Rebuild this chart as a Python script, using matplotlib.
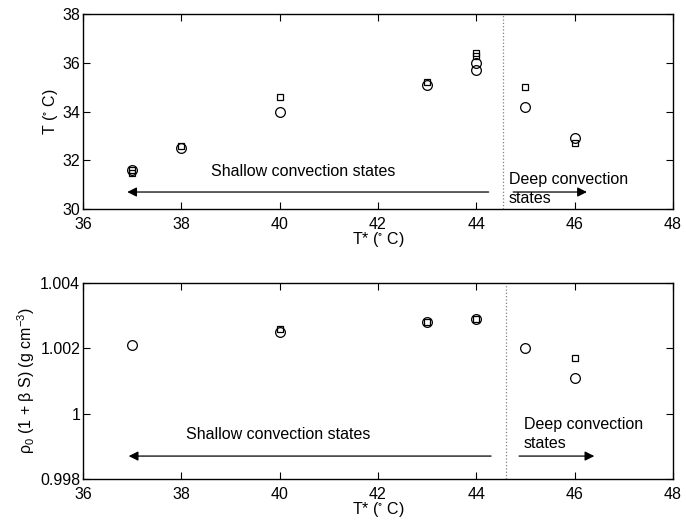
import matplotlib
matplotlib.use("Agg")
import matplotlib.pyplot as plt

plt.rcParams["font.family"] = ["Liberation Sans", "DejaVu Sans"]
plt.rcParams["mathtext.fontset"] = "custom"
plt.rcParams["mathtext.rm"] = "Liberation Sans"
plt.rcParams["mathtext.it"] = "Liberation Sans"
plt.rcParams["mathtext.default"] = "regular"

# top panel: surface temperature T vs T*
t_sq_x = [37, 37, 38, 40, 43, 44, 44, 45, 46]
t_sq_y = [31.5, 31.6, 32.6, 34.6, 35.2, 36.4, 36.3, 35.0, 32.7]
t_ci_x = [37, 38, 40, 43, 44, 44, 45, 46]
t_ci_y = [31.6, 32.5, 34.0, 35.1, 36.0, 35.7, 34.2, 32.9]

# bottom panel: density
r_sq_x = [40, 43, 44, 46]
r_sq_y = [1.0026, 1.0028, 1.0029, 1.0017]
r_ci_x = [37, 40, 43, 44, 45, 46]
r_ci_y = [1.0021, 1.0025, 1.0028, 1.0029, 1.0020, 1.0011]

xticks = [36, 38, 40, 42, 44, 46, 48]
t_yticks = [30, 32, 34, 36, 38]
r_yticks = [0.998, 1.0, 1.002, 1.004]
r_ylabels = ["0.998", "1", "1.002", "1.004"]

fig = plt.figure(figsize=(6.86, 5.24), dpi=100)
ax1 = fig.add_axes([0.121, 0.601, 0.860, 0.372])
ax2 = fig.add_axes([0.121, 0.086, 0.860, 0.374])

fs = 11.5
for ax in (ax1, ax2):
    ax.set_xlim(36, 48)
    ax.set_xticks(xticks)
    ax.tick_params(direction="in", top=True, right=True, length=5,
                   width=0.8, labelsize=fs, pad=2)
    ax.tick_params(axis="x", pad=5.5)
    for s in ax.spines.values():
        s.set_linewidth(1.0)
    ax.set_xlabel("T* ($^{\\circ}$ C)", fontsize=fs, labelpad=-1)

ax1.plot(t_sq_x, t_sq_y, "ks", mfc="none", ms=5, mew=0.9)
ax1.plot(t_ci_x, t_ci_y, "ko", mfc="none", ms=7, mew=0.9)
ax1.set_ylim(30, 38)
ax1.set_yticks(t_yticks)
ax1.set_ylabel("T ($^{\\circ}$ C)", fontsize=fs, labelpad=2)
ax1.axvline(44.55, color="gray", ls=":", lw=0.9)
ax1.annotate("", xy=(36.9, 30.7), xytext=(44.25, 30.7),
             arrowprops=dict(arrowstyle="-|>", color="k", lw=0.9,
                             mutation_scale=14, shrinkA=0, shrinkB=0))
ax1.annotate("", xy=(46.25, 30.7), xytext=(44.75, 30.7),
             arrowprops=dict(arrowstyle="-|>", color="k", lw=0.9,
                             mutation_scale=14, shrinkA=0, shrinkB=0))
ax1.text(38.6, 31.53, "Shallow convection states", fontsize=fs, va="center")
ax1.text(44.66, 30.84, "Deep convection\nstates", fontsize=fs, va="center",
         linespacing=1.35)

ax2.plot(r_sq_x, r_sq_y, "ks", mfc="none", ms=5, mew=0.9)
ax2.plot(r_ci_x, r_ci_y, "ko", mfc="none", ms=7, mew=0.9)
ax2.set_ylim(0.998, 1.004)
ax2.set_yticks(r_yticks)
ax2.set_yticklabels(r_ylabels)
ax2.set_ylabel("ρ$_0$ (1 + β S) (g cm$^{-3}$)", fontsize=fs, labelpad=2)
ax2.axvline(44.6, color="gray", ls=":", lw=0.9)
ax2.annotate("", xy=(36.93, 0.9987), xytext=(44.3, 0.9987),
             arrowprops=dict(arrowstyle="-|>", color="k", lw=0.9,
                             mutation_scale=14, shrinkA=0, shrinkB=0))
ax2.annotate("", xy=(46.4, 0.9987), xytext=(44.87, 0.9987),
             arrowprops=dict(arrowstyle="-|>", color="k", lw=0.9,
                             mutation_scale=14, shrinkA=0, shrinkB=0))
ax2.text(38.1, 0.99935, "Shallow convection states", fontsize=fs, va="center")
ax2.text(44.97, 0.99937, "Deep convection\nstates", fontsize=fs, va="center",
         linespacing=1.35)

fig.savefig("out.png", dpi=100)
